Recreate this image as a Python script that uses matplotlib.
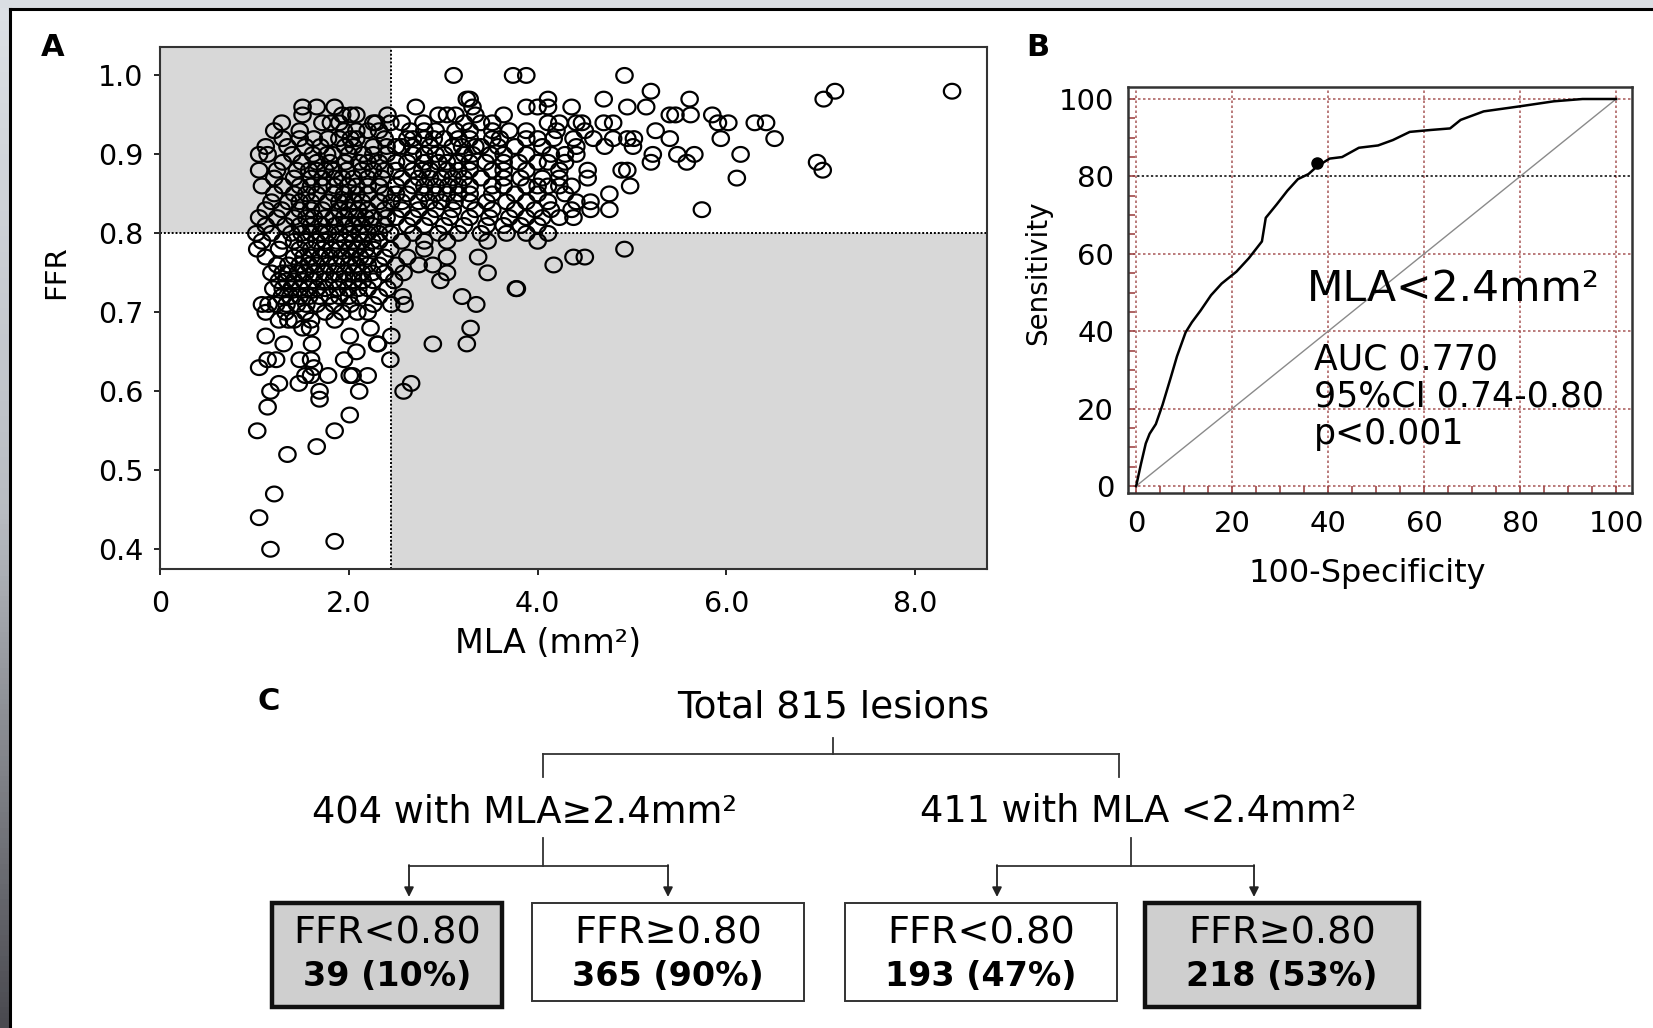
import numpy as np
import matplotlib.pyplot as plt
from matplotlib.patches import Rectangle
from matplotlib.colors import LinearSegmentedColormap
from matplotlib.path import Path

# ---- data -------------------------------------------------------------
# panel A: MLA values grouped by FFR row (FFR is reported to 2 decimals)
ffr_rows = {
    1.00: [3.11, 3.74, 3.88, 4.92],
    0.98: [5.20, 7.15, 8.39],
    0.97: [3.25, 3.28, 4.11, 4.70, 5.61, 7.03],
    0.96: [1.51, 1.66, 1.85, 2.71, 3.31, 3.88, 4.00, 4.11, 4.36, 4.95, 5.15],
    0.95: [1.51, 1.93, 2.02, 2.08, 2.41, 2.95, 3.04, 3.13, 3.34, 3.64, 5.40, 5.46, 5.62, 5.85],
    0.94: [1.29, 1.72, 1.81, 1.90, 2.26, 2.29, 2.44, 2.56, 2.79, 3.22, 3.40, 3.52, 4.11, 4.23,
           4.41, 4.47, 4.70, 4.80, 5.91, 6.02, 6.30, 6.42],
    0.93: [1.21, 1.48, 1.95, 2.08, 2.20, 2.32, 2.65, 2.80, 2.92, 3.13, 3.28, 3.52, 3.70, 3.88,
           4.20, 4.50, 5.25],
    0.92: [1.30, 1.48, 1.63, 1.78, 1.90, 2.02, 2.08, 2.38, 2.62, 2.68, 2.80, 2.90, 3.01, 3.16,
           3.28, 3.52, 3.60, 3.88, 4.00, 4.17, 4.38, 4.59, 4.80, 4.95, 5.02, 5.40, 5.94, 6.51],
    0.91: [1.12, 1.35, 1.54, 1.70, 1.96, 2.05, 2.26, 2.40, 2.50, 2.56, 2.68, 2.86, 3.10, 3.20,
           3.34, 3.40, 3.58, 3.76, 4.05, 4.41, 4.71, 5.01],
    0.90: [1.05, 1.14, 1.40, 1.62, 1.77, 1.83, 2.00, 2.15, 2.26, 2.40, 2.68, 2.80, 2.92, 3.01,
           3.22, 3.31, 3.50, 3.64, 3.88, 4.14, 4.29, 4.41, 5.22, 5.48, 5.66, 6.15],
    0.89: [1.30, 1.50, 1.66, 1.80, 1.96, 2.11, 2.20, 2.32, 2.50, 2.62, 2.80, 2.95, 3.04, 3.15,
           3.28, 3.45, 3.64, 3.80, 4.00, 4.11, 4.29, 5.20, 5.58, 6.96],
    0.88: [1.05, 1.24, 1.45, 1.58, 1.66, 1.75, 1.84, 1.98, 2.14, 2.26, 2.38, 2.50, 2.68, 2.78,
           2.86, 3.04, 3.16, 3.28, 3.52, 3.64, 3.88, 4.23, 4.53, 4.89, 4.95, 7.02],
    0.87: [1.21, 1.42, 1.60, 1.72, 1.85, 1.93, 2.05, 2.20, 2.35, 2.56, 2.74, 2.86, 2.98, 3.10,
           3.22, 3.40, 3.64, 3.82, 4.05, 4.23, 4.53, 6.11],
    0.86: [1.08, 1.30, 1.48, 1.60, 1.72, 1.85, 1.99, 2.08, 2.20, 2.32, 2.50, 2.68, 2.80, 2.92,
           3.05, 3.16, 3.28, 3.52, 3.64, 3.88, 4.00, 4.11, 4.23, 4.36, 4.98],
    0.85: [1.21, 1.42, 1.55, 1.66, 1.84, 1.95, 2.08, 2.20, 2.38, 2.50, 2.62, 2.80, 2.92, 3.04,
           3.16, 3.28, 3.52, 3.76, 4.00, 4.29, 4.76],
    0.84: [1.18, 1.36, 1.48, 1.60, 1.78, 1.90, 1.96, 2.05, 2.14, 2.32, 2.45, 2.56, 2.74, 2.85,
           2.98, 3.12, 3.28, 3.46, 3.67, 3.88, 4.11, 4.41, 4.56],
    0.83: [1.12, 1.29, 1.48, 1.60, 1.72, 1.90, 2.00, 2.10, 2.20, 2.38, 2.56, 2.74, 2.92, 3.10,
           3.34, 3.52, 3.76, 3.97, 4.14, 4.36, 4.56, 4.76, 5.74],
    0.82: [1.05, 1.24, 1.42, 1.55, 1.63, 1.75, 1.84, 1.95, 2.08, 2.18, 2.26, 2.40, 2.50, 2.68,
           2.86, 3.07, 3.28, 3.49, 3.70, 3.88, 4.05, 4.23, 4.38],
    0.81: [1.12, 1.33, 1.48, 1.60, 1.72, 1.85, 1.96, 2.05, 2.14, 2.25, 2.38, 2.62, 2.80, 3.01,
           3.22, 3.46, 3.64, 3.82, 4.00],
    0.80: [1.02, 1.18, 1.39, 1.50, 1.60, 1.70, 1.78, 1.90, 2.02, 2.12, 2.20, 2.32, 2.44, 2.68,
           2.95, 3.16, 3.40, 3.67, 3.88, 4.11],
    0.79: [1.08, 1.30, 1.42, 1.54, 1.66, 1.75, 1.87, 1.96, 2.05, 2.14, 2.25, 2.32, 2.56, 2.80,
           3.04, 3.47, 4.00],
    0.78: [1.03, 1.26, 1.48, 1.60, 1.72, 1.82, 1.90, 2.00, 2.08, 2.18, 2.26, 2.44, 2.80, 4.92],
    0.77: [1.12, 1.42, 1.52, 1.60, 1.70, 1.80, 1.92, 2.02, 2.12, 2.20, 2.38, 2.62, 3.04, 3.37,
           4.38, 4.50],
    0.76: [1.24, 1.36, 1.48, 1.58, 1.66, 1.78, 1.87, 2.00, 2.08, 2.20, 2.32, 2.50, 2.74, 2.89, 4.17],
    0.75: [1.18, 1.30, 1.36, 1.46, 1.54, 1.64, 1.75, 1.85, 1.96, 2.05, 2.14, 2.25, 2.38, 2.58,
           3.04, 3.47],
    0.74: [1.26, 1.34, 1.42, 1.52, 1.63, 1.74, 1.84, 1.95, 2.05, 2.15, 2.26, 2.48, 2.97],
    0.73: [1.20, 1.30, 1.39, 1.48, 1.57, 1.66, 1.75, 1.88, 1.99, 2.10, 2.20, 2.41, 3.77, 3.78],
    0.72: [1.29, 1.38, 1.48, 1.58, 1.69, 1.80, 1.90, 2.00, 2.11, 2.32, 2.57, 3.20],
    0.71: [1.08, 1.15, 1.23, 1.34, 1.45, 1.55, 1.66, 1.84, 2.02, 2.26, 2.45, 2.59, 3.35],
    0.70: [1.12, 1.33, 1.54, 1.75, 1.93, 2.09, 2.20],
    0.69: [1.26, 1.36, 1.42, 1.60, 1.85],
    0.68: [1.51, 1.59, 2.23, 3.29],
    0.67: [1.12, 2.01, 2.45],
    0.66: [1.31, 1.61, 2.30, 2.31, 2.89, 3.25],
    0.65: [2.08],
    0.64: [1.14, 1.23, 1.48, 1.60, 1.95, 2.44],
    0.63: [1.05, 1.63],
    0.62: [1.54, 1.60, 1.78, 2.01, 2.04, 2.20],
    0.61: [1.26, 1.47, 2.66],
    0.60: [1.17, 1.69, 2.11, 2.58],
    0.59: [1.69],
    0.58: [1.14],
    0.57: [2.01],
    0.55: [1.03, 1.85],
    0.53: [1.66],
    0.52: [1.35],
    0.47: [1.21],
    0.44: [1.05],
    0.41: [1.85],
    0.40: [1.17],
}
mla_cutoff = 2.45
ffr_cutoff = 0.80
a_xticks = [0, 2, 4, 6, 8]
a_xticklabels = ["0", "2.0", "4.0", "6.0", "8.0"]
a_yticks = [0.4, 0.5, 0.6, 0.7, 0.8, 0.9, 1.0]

# panel B: ROC curve
roc_fpr = [0, 1, 2, 2.8, 4.1, 5.5, 7.2, 8.5, 10.3, 11.6, 13.4, 15.6, 17.8, 20.9, 23.5, 26.2,
           27, 29.3, 31.5, 33.7, 35.9, 37.6, 40.3, 42.9, 46.4, 50.4, 53.5, 57, 61.4, 65.4,
           67.6, 72.4, 79.9, 87, 93, 100]
roc_tpr = [0, 5.7, 11, 13.5, 16, 21, 28, 33.5, 39.7, 42.3, 45.3, 49.3, 52.3, 55.4, 58.9, 63.2,
           69.3, 72.8, 76.3, 79.3, 80.6, 82.5, 84.6, 85, 87.4, 88, 89.4, 91.5, 92, 92.4,
           94.6, 96.8, 98.1, 99.4, 100, 100]
cut_point = (37.6, 83.5)
b_ticks = [0, 20, 40, 60, 80, 100]
b_title = "MLA<2.4mm²"
b_stats = ["AUC 0.770", "95%CI 0.74-0.80", "p<0.001"]

# panel C: flow chart
c_total = "Total 815 lesions"
c_groups = ["404 with MLA≥2.4mm²", "411 with MLA <2.4mm²"]
c_heads = ["FFR<0.80", "FFR≥0.80", "FFR<0.80", "FFR≥0.80"]
c_counts = [39, 365, 193, 218]
c_pcts = [10, 90, 47, 53]
c_shaded = [True, False, False, True]

# ---- figure -----------------------------------------------------------
W, H = 1653, 1028
fig = plt.figure(figsize=(W / 100, H / 100), dpi=100)
fig.patch.set_facecolor("white")


def frac(x0, y0, x1, y1):
    # pixel box (top-left origin) -> figure fraction rect
    return [x0 / W, 1 - y1 / H, (x1 - x0) / W, (y1 - y0) / H]


# overlay in pixel coordinates for frame + flow chart
ov = fig.add_axes([0, 0, 1, 1], zorder=-5)
ov.set_xlim(0, W)
ov.set_ylim(H, 0)
ov.axis("off")

grad = LinearSegmentedColormap.from_list("edge", ["#dde1e6", "#b8bcc2", "#4a4a50"])
ov.imshow(np.linspace(0, 1, 200).reshape(-1, 1), extent=(0, 9, H, 0), cmap=grad,
          aspect="auto", zorder=0)
ov.add_patch(Rectangle((0, 0), W, 8, color="#dadee3", lw=0, zorder=0))
ov.plot([9.5, W], [8.5, 8.5], color="black", lw=2.2, zorder=1)
ov.plot([9.5, 9.5], [8.5, H], color="black", lw=2.2, zorder=1)

# ---- panel A ----------------------------------------------------------
axA = fig.add_axes(frac(160, 47, 987, 569))
a_xlim = (0, 8.76)
a_ylim = (0.375, 1.036)
axA.set_xlim(*a_xlim)
axA.set_ylim(*a_ylim)

shade = "#d8d8d8"
axA.add_patch(Rectangle((a_xlim[0], ffr_cutoff), mla_cutoff - a_xlim[0], a_ylim[1] - ffr_cutoff,
                        color=shade, lw=0, zorder=0))
axA.add_patch(Rectangle((mla_cutoff, a_ylim[0]), a_xlim[1] - mla_cutoff, ffr_cutoff - a_ylim[0],
                        color=shade, lw=0, zorder=0))
axA.axhline(ffr_cutoff, color="black", ls=(0, (1, 1)), lw=1.4, zorder=1)
axA.axvline(mla_cutoff, color="black", ls=(0, (1, 1)), lw=1.4, zorder=1)

mla = []
ffr = []
for level, xs in ffr_rows.items():
    mla.extend(xs)
    ffr.extend([level] * len(xs))

# the source figure is stretched sideways a little, so its circles are slightly wide
t = np.linspace(0, 2 * np.pi, 41)
ring = Path(np.column_stack([np.cos(t), 0.9 * np.sin(t)]), closed=True)
axA.scatter(mla, ffr, s=140, marker=ring, facecolors="none", edgecolors="black",
            linewidths=1.6, zorder=2)

axA.set_xticks(a_xticks)
axA.set_xticklabels(a_xticklabels)
axA.set_yticks(a_yticks)
axA.set_yticklabels([f"{v:.1f}" for v in a_yticks])
axA.tick_params(direction="out", length=4, width=1.2, labelsize=20.5)
axA.tick_params(axis="x", pad=11)
axA.tick_params(axis="y", pad=8)
for sp in axA.spines.values():
    sp.set_color("#333333")
    sp.set_linewidth(1.5)
axA.set_xlabel("MLA (mm²)", fontsize=24)
axA.xaxis.set_label_coords(0.469, -0.112)
axA.set_ylabel("FFR", fontsize=21)
axA.yaxis.set_label_coords(-0.109, 0.569)

# ---- panel B ----------------------------------------------------------
axB = fig.add_axes(frac(1128, 87, 1632, 493))
axB.set_xlim(-1.7, 103.3)
axB.set_ylim(-1.8, 103.1)
grid_col = "#a04848"
for tk in b_ticks:
    axB.axvline(tk, color=grid_col, ls=(0, (1.5, 1.5)), lw=1.2, alpha=0.85, zorder=0)
    if tk != 80:
        axB.axhline(tk, color=grid_col, ls=(0, (1.5, 1.5)), lw=1.2, alpha=0.85, zorder=0)
axB.axhline(80, color="black", ls=(0, (1.5, 1.5)), lw=1.1, zorder=0)
axB.plot([0, 100], [0, 100], color="#8a8a8a", lw=1.0, zorder=1)
axB.plot(roc_fpr, roc_tpr, color="black", lw=1.8, zorder=2)
axB.plot(*cut_point, "o", color="black", ms=8, zorder=3)

axB.set_xticks(b_ticks)
axB.set_yticks(b_ticks)
axB.set_xticks(np.arange(0, 101, 5), minor=True)
axB.set_yticks(np.arange(0, 101, 5), minor=True)
axB.tick_params(which="both", direction="in", length=5, width=1.2, color=grid_col, labelsize=21)
axB.tick_params(axis="x", pad=12)
axB.tick_params(axis="y", pad=10)
for sp in axB.spines.values():
    sp.set_color("#333333")
    sp.set_linewidth(1.8)
axB.set_xlabel("100-Specificity", fontsize=23)
axB.xaxis.set_label_coords(0.474, -0.16)
axB.set_ylabel("Sensitivity", fontsize=20)
axB.yaxis.set_label_coords(-0.151, 0.543)

axB.text(35.5, 51, b_title, fontsize=30.5, va="center", ha="left")
for i, s in enumerate(b_stats):
    axB.text(37.0, 32.7 - i * 9.6, s, fontsize=25, va="center", ha="left")

# ---- panel labels -----------------------------------------------------
ov.text(53, 47, "A", fontsize=22, fontweight="bold", ha="center", va="center")
ov.text(1038, 47, "B", fontsize=22, fontweight="bold", ha="center", va="center")
ov.text(269, 701, "C", fontsize=22, fontweight="bold", ha="center", va="center")

# ---- panel C: flow chart ---------------------------------------------
line_kw = dict(color="#333333", lw=1.3)
ov.text(833, 708, c_total, fontsize=27, ha="center", va="center")
ov.plot([833, 833], [738, 754], **line_kw)
ov.plot([543, 1119], [754, 754], **line_kw)
ov.plot([543, 543], [754, 777], **line_kw)
ov.plot([1119, 1119], [754, 777], **line_kw)

group_x = [525, 1138]
stem_x = [543, 1131]
arrow_x = [(409, 668), (997, 1254)]
for gx, sx, ax2, label in zip(group_x, stem_x, arrow_x, c_groups):
    ov.text(gx, 812, label, fontsize=26.5, ha="center", va="center")
    ov.plot([sx, sx], [838, 866], **line_kw)
    ov.plot([ax2[0], ax2[1]], [866, 866], **line_kw)
    for x in ax2:
        ov.annotate("", xy=(x, 897), xytext=(x, 865),
                    arrowprops=dict(arrowstyle="-|>", color="#222222", lw=1.3,
                                    mutation_scale=14, shrinkA=0, shrinkB=0))

box_x = [(272, 502), (532, 804), (845, 1117), (1145, 1419)]
for (x0, x1), head, n, p, shaded in zip(box_x, c_heads, c_counts, c_pcts, c_shaded):
    if shaded:
        ov.add_patch(Rectangle((x0, 903), x1 - x0, 104, facecolor="#cfcfcf",
                               edgecolor="#111111", lw=3.2))
    else:
        ov.add_patch(Rectangle((x0, 903), x1 - x0, 98, facecolor="white",
                               edgecolor="#333333", lw=1.4))
    cx = (x0 + x1) / 2
    ov.text(cx, 933, head, fontsize=27.5, ha="center", va="center")
    ov.text(cx, 977, f"{n} ({p}%)", fontsize=24, fontweight="bold", ha="center", va="center")

fig.savefig("out.png", dpi=100, facecolor="white")
